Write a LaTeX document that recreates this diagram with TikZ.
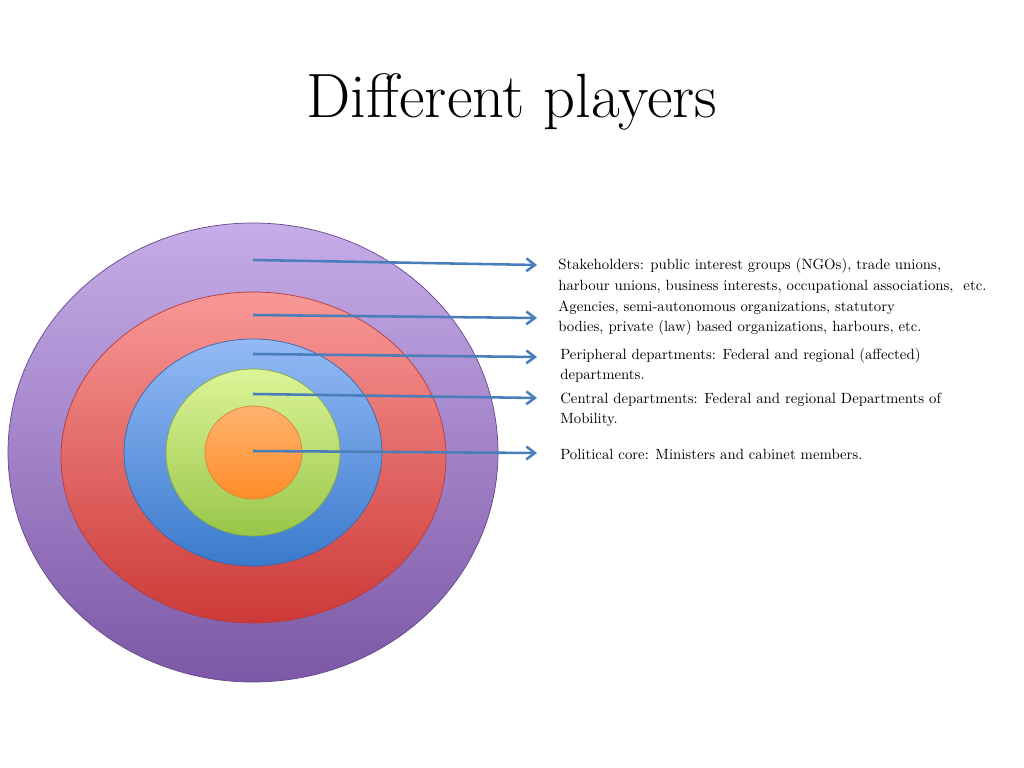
\documentclass[tikz,border=0pt]{standalone}
\usepackage{fontspec}
\usetikzlibrary{arrows.meta}
\definecolor{arrowblue}{HTML}{4A7EBB}
\definecolor{purpT}{RGB}{198,172,232}\definecolor{purpB}{RGB}{124,88,166}\definecolor{purpE}{RGB}{100,70,140}
\definecolor{redT}{RGB}{248,152,150}\definecolor{redB}{RGB}{204,58,56}\definecolor{redE}{RGB}{180,60,60}
\definecolor{bluT}{RGB}{148,186,246}\definecolor{bluB}{RGB}{58,122,204}\definecolor{bluE}{RGB}{60,100,170}
\definecolor{grnT}{RGB}{220,244,152}\definecolor{grnB}{RGB}{152,198,72}\definecolor{grnE}{RGB}{130,170,70}
\definecolor{orgT}{RGB}{255,180,112}\definecolor{orgB}{RGB}{255,140,40}\definecolor{orgE}{RGB}{220,130,50}
\begin{document}
\begin{tikzpicture}[x=0.703125pt,y=-0.703125pt,
  ring/.style={draw=#1, line width=0.5pt},
  pointer/.style={draw=arrowblue, line width=1.8pt, -{Straight Barb[length=6pt,width=9pt]}},
  label/.style={anchor=west, inner sep=0pt, align=left, font=\fontsize{10.4}{14.4}\selectfont, text=black}]
\useasboundingbox (0,0) rectangle (1024,768);
\node[inner sep=0pt, anchor=base, font=\fontsize{44}{50}\selectfont] (title) at (512,118) {Different players};
% rings
\shade[top color=purpT, bottom color=purpB] (253,452.5) ellipse [x radius=245, y radius=229.5];
\draw[ring=purpE] (253,452.5) ellipse [x radius=245, y radius=229.5];
\shade[top color=redT, bottom color=redB] (253.5,457.5) ellipse [x radius=192.5, y radius=165.5];
\draw[ring=redE] (253.5,457.5) ellipse [x radius=192.5, y radius=165.5];
\shade[top color=bluT, bottom color=bluB] (253,452.5) ellipse [x radius=129, y radius=113.5];
\draw[ring=bluE] (253,452.5) ellipse [x radius=129, y radius=113.5];
\shade[top color=grnT, bottom color=grnB] (253,452.5) ellipse [x radius=87, y radius=83.5];
\draw[ring=grnE] (253,452.5) ellipse [x radius=87, y radius=83.5];
\shade[top color=orgT, bottom color=orgB] (253.5,452.5) ellipse [x radius=48.5, y radius=46.5];
\draw[ring=orgE] (253.5,452.5) ellipse [x radius=48.5, y radius=46.5];
% labels
\node[label] (l1) at (558,276) {Stakeholders: public interest groups (NGOs), trade unions,\\harbour unions, business interests, occupational associations,\ \ etc.};
\node[label] (l2) at (558,318) {Agencies, semi-autonomous organizations, statutory\\bodies, private (law) based organizations, harbours, etc.};
\node[label] (l3) at (560,365.5) {Peripheral departments: Federal and regional (affected)\\departments.};
\node[label] (l4) at (560,410) {Central departments: Federal and regional Departments of\\Mobility.};
\node[label] (l5) at (560,454) {Political core: Ministers and cabinet members.};
% arrow coordinates
\coordinate (s1) at (253,260); \coordinate (e1) at (537,265);
\coordinate (s2) at (253,315); \coordinate (e2) at (537,318);
\coordinate (s3) at (253,354); \coordinate (e3) at (537,357);
\coordinate (s4) at (253,394); \coordinate (e4) at (537,398);
\coordinate (s5) at (253,451); \coordinate (e5) at (537,453);
\foreach \i in {1,...,5} {\draw[pointer] (s\i) -- (e\i);}
\end{tikzpicture}
\end{document}
